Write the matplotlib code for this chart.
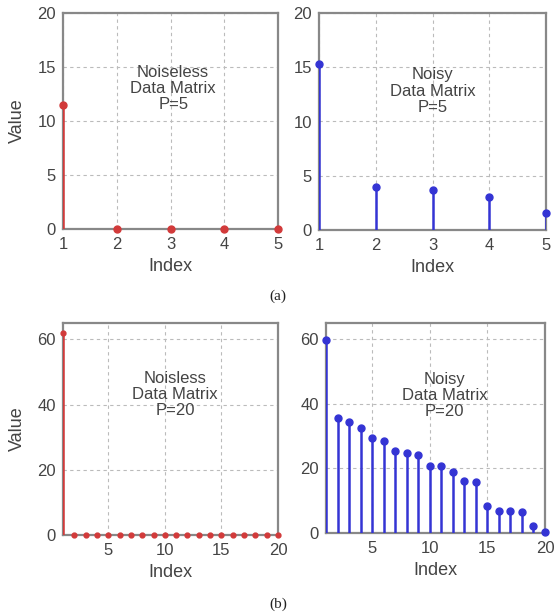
import matplotlib
matplotlib.use("Agg")
import matplotlib.pyplot as plt
import numpy as np

plt.rcParams['font.family'] = ['Liberation Sans', 'DejaVu Sans']

# Data
idx5 = [1, 2, 3, 4, 5]
noiseless5 = [11.5, 0, 0, 0, 0]
noisy5 = [15.3, 4.0, 3.7, 3.0, 1.6]

idx20 = list(range(1, 21))
noiseless20 = [62.0] + [0] * 19
noisy20 = [59.7, 35.5, 34.4, 32.6, 29.3, 28.4, 25.3, 24.8, 24.1, 20.7,
           20.7, 19.0, 16.0, 15.7, 8.3, 6.9, 6.9, 6.4, 2.3, 0.3]

red = '#d23a3a'
blue = '#3434d4'
txt = '#444444'
W, H = 556, 612

fig = plt.figure(figsize=(W / 100, H / 100), dpi=100)

def add_ax(l, t, r, b):
    return fig.add_axes([l / W, 1 - b / H, (r - l) / W, (b - t) / H])

def style(ax, xlim, ylim, xt, yt):
    ax.set_xlim(*xlim)
    ax.set_ylim(*ylim)
    ax.set_xticks(xt)
    ax.set_yticks(yt)
    ax.grid(True, linestyle=(0, (3, 3)), color='#bbbbbb', linewidth=0.8)
    for s in ax.spines.values():
        s.set_color('#888888')
        s.set_linewidth(1.6)
    ax.tick_params(length=0, labelsize=12, colors=txt)
    ax.tick_params(axis='x', pad=6)
    ax.tick_params(axis='y', pad=5)
    ax.set_xlabel('Index', fontsize=13, color=txt, labelpad=4)

def stem(ax, x, y, c, ms):
    ax.vlines(x, 0, y, colors=c, linewidth=1.8, zorder=3)
    ax.plot(x, y, 'o', color=c, markersize=ms, zorder=4, clip_on=False)

# (a) left
ax1 = add_ax(63, 13, 278, 229)
style(ax1, (1, 5), (0, 20), idx5, [0, 5, 10, 15, 20])
stem(ax1, idx5, noiseless5, red, 5)
ax1.set_ylabel('Value', fontsize=13, color=txt, labelpad=8)
ax1.text(3.05, 13.0, 'Noiseless\nData Matrix\nP=5', ha='center', va='center',
         fontsize=12, color=txt, linespacing=1.1)

# (a) right
ax2 = add_ax(319, 13, 546, 230)
style(ax2, (1, 5), (0, 20), idx5, [0, 5, 10, 15, 20])
stem(ax2, idx5, noisy5, blue, 5)
ax2.text(3.0, 12.8, 'Noisy\nData Matrix\nP=5', ha='center', va='center',
         fontsize=12, color=txt, linespacing=1.1)

# (b) left
ax3 = add_ax(63, 323, 278, 535)
style(ax3, (1, 20), (0, 65), [5, 10, 15, 20], [0, 20, 40, 60])
stem(ax3, idx20, noiseless20, red, 3.5)
ax3.set_ylabel('Value', fontsize=13, color=txt, labelpad=8)
ax3.text(10.9, 43.0, 'Noisless\nData Matrix\nP=20', ha='center', va='center',
         fontsize=12, color=txt, linespacing=1.1)

# (b) right
ax4 = add_ax(326, 323, 545, 533)
style(ax4, (1, 20), (0, 65), [5, 10, 15, 20], [0, 20, 40, 60])
stem(ax4, idx20, noisy20, blue, 5)
ax4.text(11.3, 42.5, 'Noisy\nData Matrix\nP=20', ha='center', va='center',
         fontsize=12, color=txt, linespacing=1.1)

fig.text(278 / W, 1 - 296 / H, '(a)', ha='center', va='center', fontsize=11, color='#222222',
         family=['Liberation Serif', 'DejaVu Serif'])
fig.text(278 / W, 1 - 604 / H, '(b)', ha='center', va='center', fontsize=11, color='#222222',
         family=['Liberation Serif', 'DejaVu Serif'])

fig.savefig('out.png', dpi=100, facecolor='white')
